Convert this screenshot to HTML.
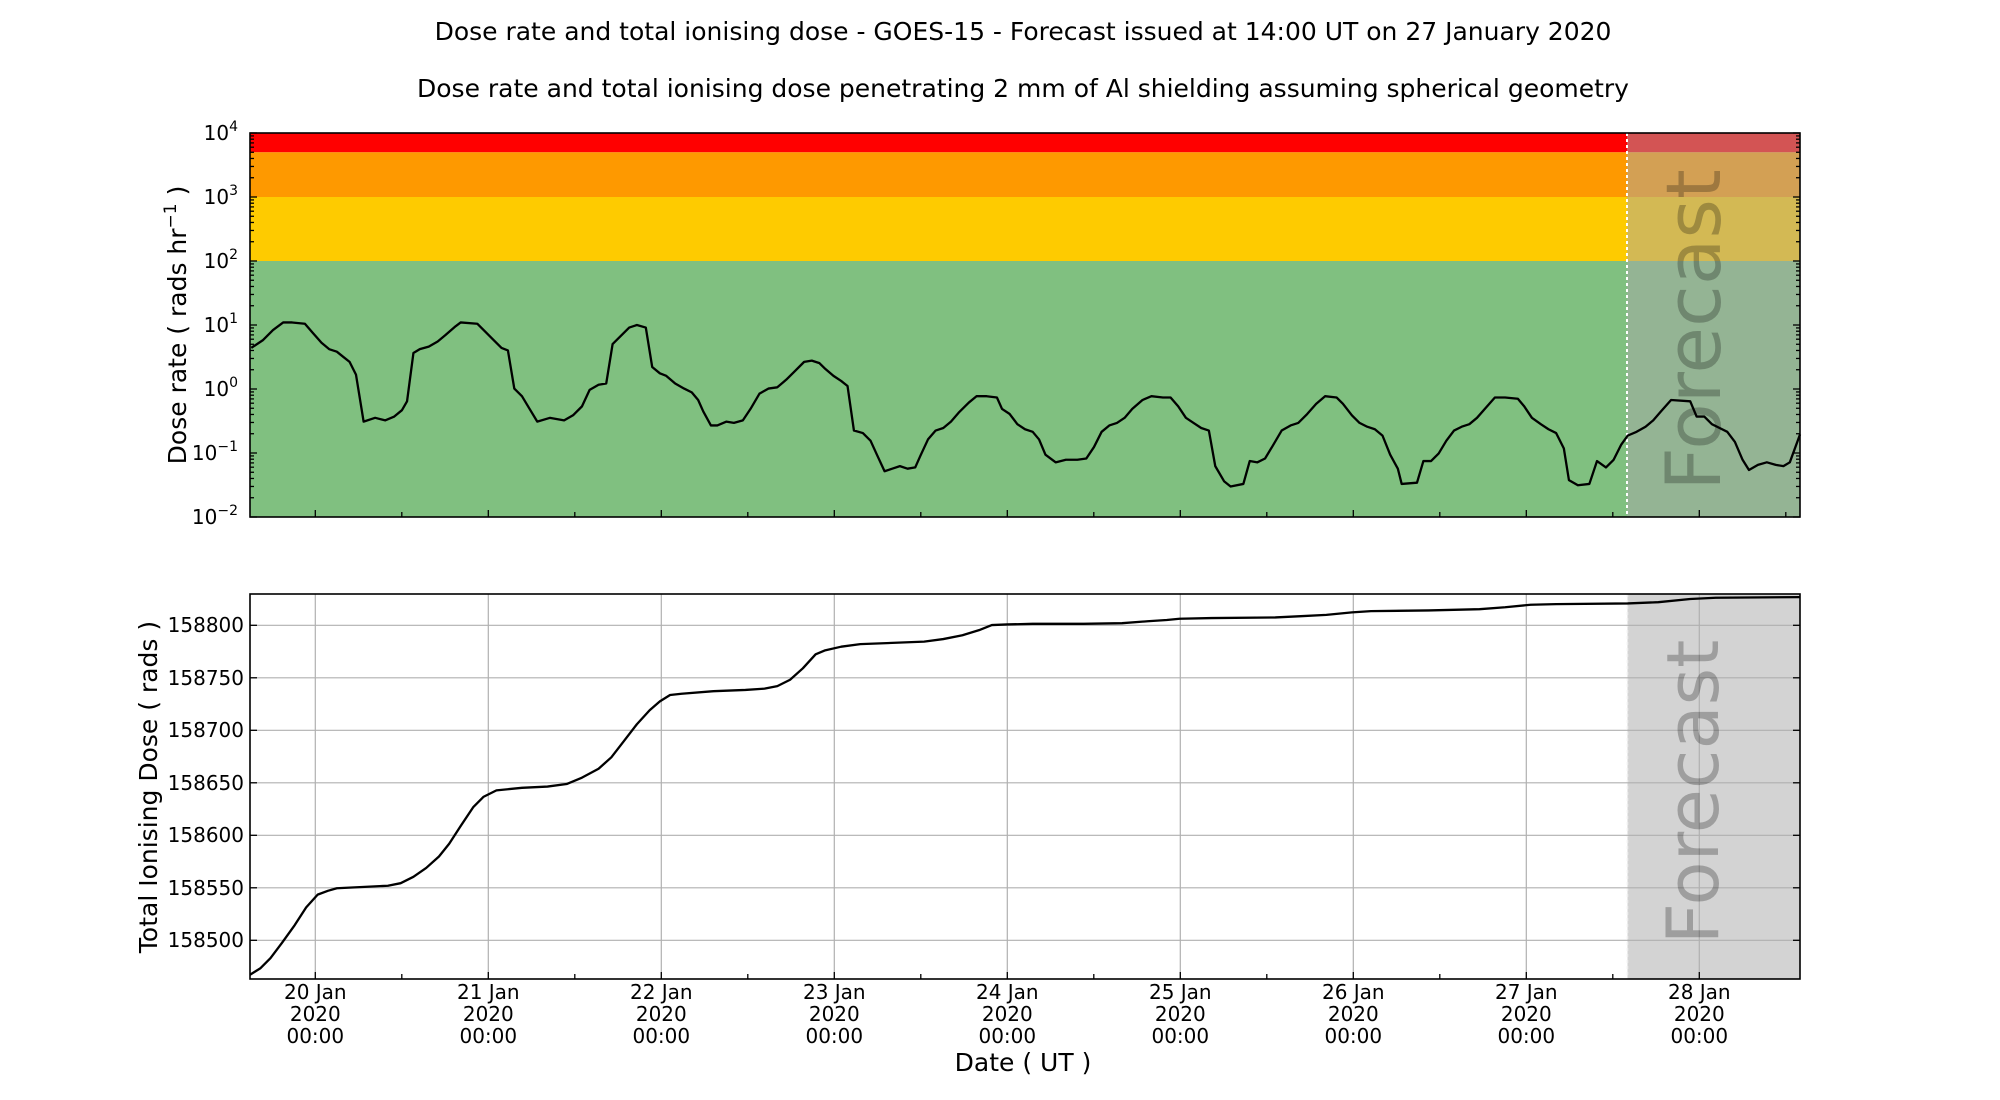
<!DOCTYPE html>
<html><head><meta charset="utf-8"><style>body{margin:0;background:#fff}svg{display:block}text{font-family:"DejaVu Sans","Liberation Sans",sans-serif;fill:#000}</style></head>
<body>
<svg width="2000" height="1100" viewBox="0 0 2000 1100" xmlns="http://www.w3.org/2000/svg">
<text x="1023" y="40" font-size="25" text-anchor="middle">Dose rate and total ionising dose - GOES-15 - Forecast issued at 14:00 UT on 27 January 2020</text>
<text x="1023" y="97" font-size="25" text-anchor="middle">Dose rate and total ionising dose penetrating 2 mm of Al shielding assuming spherical geometry</text>

<!-- top panel -->
<rect x="250" y="133" width="1550" height="19.3" fill="#ff0000"/>
<rect x="250" y="152.3" width="1550" height="44.7" fill="#fe9900"/>
<rect x="250" y="197" width="1550" height="64" fill="#fecb00"/>
<rect x="250" y="261" width="1550" height="256" fill="#80c080"/>
<rect x="1627" y="133" width="173" height="384" fill="rgb(168,168,168)" fill-opacity="0.5"/>
<line x1="1627" y1="133" x2="1627" y2="517" stroke="#fff" stroke-width="2" stroke-dasharray="3,3"/>
<text transform="translate(1720,330) rotate(-90)" font-size="76" text-anchor="middle" fill="#707070" fill-opacity="0.25">Forecast</text>
<g transform="matrix(1.2768 0 0 1.2715 -1.53 2.04)">
<polyline fill="none" stroke="#000" stroke-width="2.3" vector-effect="non-scaling-stroke" stroke-linejoin="round" points="198,272 207,266 215,258 223,252 230,252 240,253 246,260 253,268 259,273 265,275 270,279 275,283 280,293 286,330 295,327 303,329 310,326 316,321 320,314 325,276 330,273 337,271 344,267 350,262 358,255 362,252 375,253 380,258 388,266 394,272 399,274 404,304 410,310 416,320 422,330 432,327 443,329 450,325 457,318 463,305 470,301 476,300 481,269 487,263 494,256 500,254 507,256 512,287 518,292 523,294 530,300 537,304 543,307 548,313 552,322 558,333 563,333 570,330 576,331 583,329 589,320 596,308 603,304 610,303 617,297 624,290 631,283 637,282 643,284 647,288 654,294 660,298 665,302 670,337 677,339 683,345 688,356 694,369 700,367 706,365 712,367 718,366 722,357 728,344 734,337 740,335 746,330 752,323 760,315 766,310 774,310 782,311 786,320 792,324 798,332 804,336 810,338 815,344 820,356 828,362 836,360 845,360 852,359 858,350 864,338 870,333 876,331 882,327 888,320 896,313 903,310 912,311 918,311 924,318 930,327 936,331 942,335 948,337 953,365 960,377 965,381 975,379 980,361 986,362 992,359 998,349 1005,337 1012,333 1018,331 1025,324 1032,316 1039,310 1048,311 1053,316 1060,325 1066,331 1072,334 1078,336 1084,341 1090,356 1096,367 1099,379 1111,378 1116,361 1122,361 1128,355 1134,345 1140,337 1146,334 1152,332 1158,327 1165,319 1172,311 1180,311 1190,312 1195,318 1201,327 1208,332 1214,336 1220,339 1226,351 1230,376 1237,380 1246,379 1252,361 1259,366 1265,360 1271,348 1276,341 1283,338 1290,334 1296,329 1302,322 1310,313 1325,314 1330,326 1336,326 1342,332 1348,335 1354,338 1360,346 1366,360 1371,368 1378,364 1385,362 1392,364 1398,365 1403,362 1411,340"/>
</g>
<rect x="250" y="133" width="1550" height="384" fill="none" stroke="#000" stroke-width="1.6"/>
<g id="ticks" stroke="#000" stroke-width="1.3"></g>
<g font-size="20" text-anchor="end">
<text x="238" y="140">10<tspan font-size="14" dy="-9">4</tspan></text>
<text x="238" y="204">10<tspan font-size="14" dy="-9">3</tspan></text>
<text x="238" y="268">10<tspan font-size="14" dy="-9">2</tspan></text>
<text x="238" y="332">10<tspan font-size="14" dy="-9">1</tspan></text>
<text x="238" y="396">10<tspan font-size="14" dy="-9">0</tspan></text>
<text x="238" y="460">10<tspan font-size="14" dy="-9">−1</tspan></text>
<text x="238" y="524">10<tspan font-size="14" dy="-9">−2</tspan></text>
</g>
<text transform="translate(186,325) rotate(-90)" font-size="25" text-anchor="middle">Dose rate ( rads hr<tspan font-size="17" dy="-10">−1</tspan><tspan dy="10"> )</tspan></text>

<!-- bottom panel -->
<rect x="1627.5" y="594" width="172.5" height="385" fill="#d3d3d3"/>
<line x1="1627.5" y1="594" x2="1627.5" y2="979" stroke="#eee" stroke-width="1.5" stroke-dasharray="3,3"/>
<g id="grid" stroke="#b0b0b0" stroke-width="1.2"></g>
<text transform="translate(1718,792) rotate(-90)" font-size="72" text-anchor="middle" fill="#808080" fill-opacity="0.25">Forecast</text>
<g transform="matrix(1.2768 0 0 1.2715 -1.53 2.04)">
<polyline fill="none" stroke="#000" stroke-width="2.3" vector-effect="non-scaling-stroke" stroke-linejoin="round" points="197,765 205,760 213,752 222,740 232,726 241,712 250,702 258,699 265,697 285,696 305,695 315,693 325,688 335,681 345,672 353,662 362,648 372,633 380,625 390,620 410,618 430,617 445,615 457,610 470,603 480,594 490,581 500,568 510,557 518,550 526,545 535,544 560,542 585,541 600,540 610,538 620,533 630,524 640,513 647,510 660,507 675,505 700,504 725,503 740,501 755,498 768,494 778,490 790,489.5 810,489 850,489 880,488.5 900,487 915,486 925,485 950,484.5 1000,484 1020,483 1040,482 1060,480 1075,479 1120,478.5 1160,477.5 1180,476 1200,474 1220,473.5 1276,473 1300,472 1325,469.5 1345,468.5 1411,468"/>
</g>
<rect x="250" y="594" width="1550" height="385" fill="none" stroke="#000" stroke-width="1.6"/>
<g font-size="20" text-anchor="end">
<text x="244" y="632">158800</text>
<text x="244" y="685">158750</text>
<text x="244" y="737">158700</text>
<text x="244" y="790">158650</text>
<text x="244" y="842">158600</text>
<text x="244" y="895">158550</text>
<text x="244" y="947">158500</text>
</g>
<text transform="translate(157,787) rotate(-90)" font-size="25" text-anchor="middle">Total Ionising Dose ( rads )</text>
<g id="xl" font-size="20" text-anchor="middle"></g>
<text x="1023" y="1071" font-size="25" text-anchor="middle">Date ( UT )</text>
</svg>
<script>
var NS="http://www.w3.org/2000/svg";
function L(g,x1,y1,x2,y2){var l=document.createElementNS(NS,"line");l.setAttribute("x1",x1);l.setAttribute("y1",y1);l.setAttribute("x2",x2);l.setAttribute("y2",y2);g.appendChild(l);}
var t=document.getElementById("ticks"),gr=document.getElementById("grid"),xl=document.getElementById("xl");
for(var d=0;d<6;d++){for(var m=1;m<10;m++){var y=517-(d+Math.log10(m))*64;var len=m==1?7:4;L(t,250,y,250+len,y);L(t,1800,y,1800-len,y);}}
L(t,250,133,257,133);L(t,1800,133,1793,133);
var labs=["20","21","22","23","24","25","26","27","28"];
for(var i=0;i<9;i++){var x=315.3+173*i;L(t,x,517,x,510);L(gr,x,594,x,979);
var m2=x+86.5;if(m2<1800){L(t,m2,517,m2,512);L(t,m2,979,m2,974);}
var tx=document.createElementNS(NS,"text");tx.setAttribute("x",x);tx.setAttribute("y",999);tx.textContent=labs[i]+" Jan";xl.appendChild(tx);
tx=document.createElementNS(NS,"text");tx.setAttribute("x",x);tx.setAttribute("y",1021);tx.textContent="2020";xl.appendChild(tx);
tx=document.createElementNS(NS,"text");tx.setAttribute("x",x);tx.setAttribute("y",1043);tx.textContent="00:00";xl.appendChild(tx);}
var tk2=document.createElementNS(NS,"g");tk2.setAttribute("stroke","#000");tk2.setAttribute("stroke-width","1.3");document.querySelector("svg").appendChild(tk2);
for(var i=0;i<9;i++){var x=315.3+173*i;L(tk2,x,979,x,972);}
for(var v=0;v<7;v++){var y=940.3-v*52.5;L(gr,250,y,1800,y);L(tk2,250,y,257,y);L(tk2,1800,y,1793,y);}
</script>
</body></html>
